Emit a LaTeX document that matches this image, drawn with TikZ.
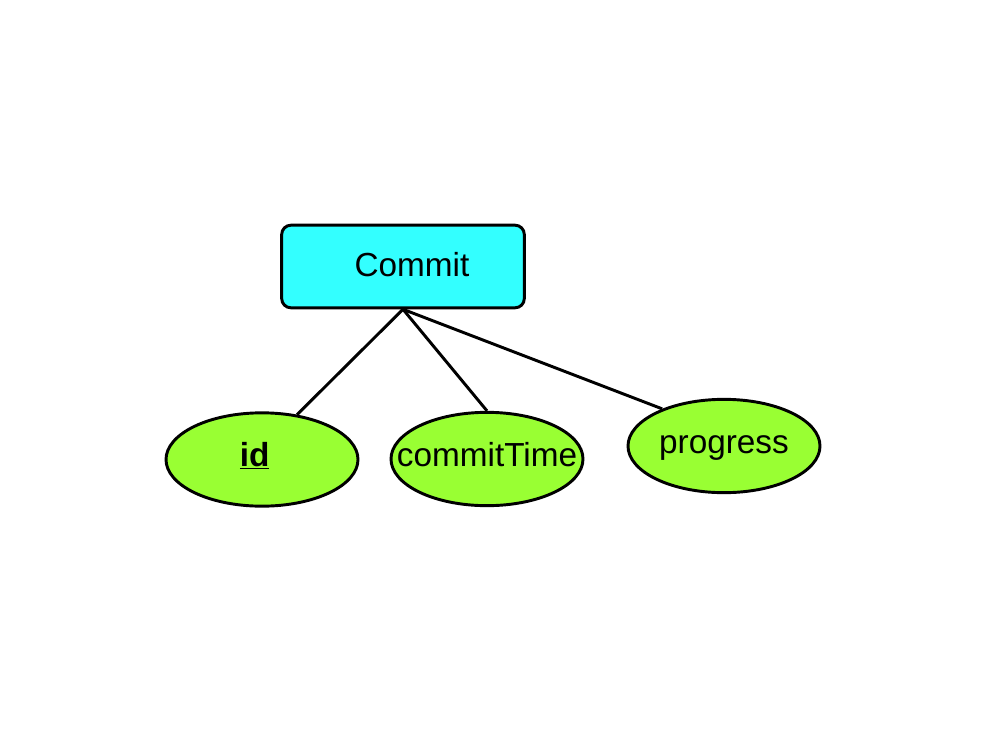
\documentclass[tikz,border=0pt]{standalone}
\usepackage{fontspec}
\setmainfont{Liberation Sans}
\usetikzlibrary{shapes.geometric}
\definecolor{entcyan}{HTML}{33FFFF}
\definecolor{attgreen}{HTML}{99FF33}
\tikzset{
  entity/.style={draw, line width=2.2pt, rounded corners=7pt, fill=entcyan,
    minimum width=182pt, minimum height=62pt, inner sep=0pt},
  attrib/.style={draw, ellipse, line width=2.2pt, fill=attgreen,
    minimum width=144pt, minimum height=70pt, inner sep=0pt},
  link/.style={line width=2.2pt}
}
\begin{document}
\begin{tikzpicture}[x=0.75pt,y=-0.75pt,font=\fontsize{25}{30}\selectfont]
				\useasboundingbox (0,0) rectangle (996,750);
				% Entity
				\node [entity, label={[xshift=6.75pt,yshift=1.8pt]center:Commit}] (commit) at (403,266.5) {};
				% Attributes
				\node [attrib, label={[xshift=-5.5pt,yshift=3pt]center:\underline{\textbf{id}}}] (id) at (262,459.5) {};
				\node [attrib, label={[yshift=3pt]center:commitTime}] (ctime) at (487,459) {};
				\node [attrib, label={[yshift=-1.5pt]center:progress}] (progress) at (724,446) {};
				% Links
				\draw [link] (commit.south) -- (id.52);
				\draw [link] (commit.south) -- (ctime.north);
				\draw [link] (commit.south) -- (progress.149);
			\end{tikzpicture}
\end{document}
